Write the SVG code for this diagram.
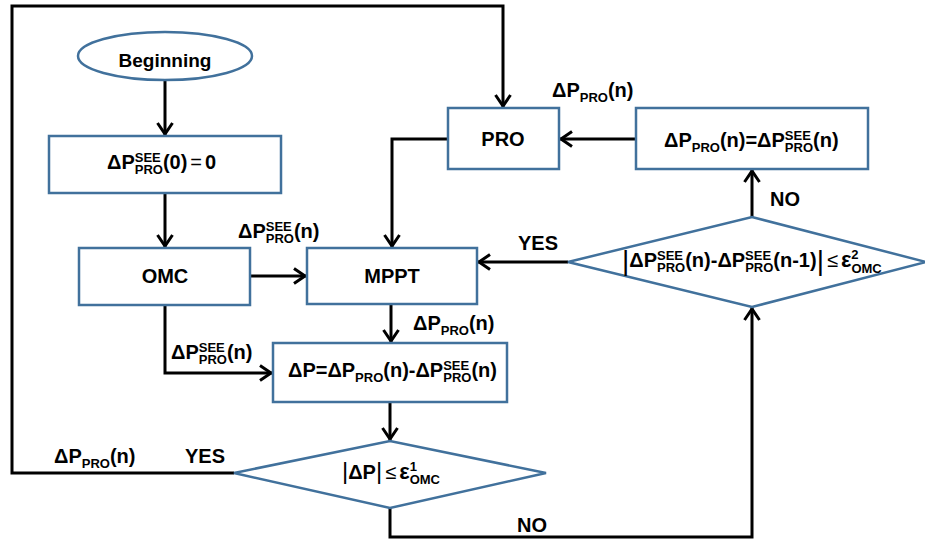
<svg xmlns="http://www.w3.org/2000/svg" width="925" height="539" viewBox="0 0 925 539">
<defs>
<style>
.n{fill:#fff;stroke:#41719c;stroke-width:2.5}
.t{font-family:"Liberation Sans",Arial,sans-serif;font-weight:bold;font-size:20px;fill:#000}
.s{font-size:13px}
.m{font-weight:normal}
.bar{font-weight:normal;font-size:24px}
.eps{font-size:22px}
</style>
<marker id="ah" markerUnits="userSpaceOnUse" viewBox="-2 -10 18 20" markerWidth="18" markerHeight="20" refX="13" refY="0" orient="auto" overflow="visible">
<path d="M0,-7.5 L11,0 L0,7.5" fill="none" stroke="#000" stroke-width="3"/>
</marker>
</defs>
<rect width="925" height="539" fill="#fff"/>

<g id="connectors" fill="none" stroke="#000" stroke-width="3" stroke-linejoin="miter">
<path d="M165,80 V136" marker-end="url(#ah)"/>
<path d="M165,193 V248" marker-end="url(#ah)"/>
<path d="M250,276 H307" marker-end="url(#ah)"/>
<path d="M165,305 V373 H273" marker-end="url(#ah)"/>
<path d="M391,304 V343" marker-end="url(#ah)"/>
<path d="M390,402 V441" marker-end="url(#ah)"/>
<path d="M234,473 H12 V6 H503 V108" marker-end="url(#ah)"/>
<path d="M390,508 V537 H752 V307" marker-end="url(#ah)"/>
<path d="M752,217 V169" marker-end="url(#ah)"/>
<path d="M636,139 H559" marker-end="url(#ah)"/>
<path d="M448,139 H392 V248" marker-end="url(#ah)"/>
<path d="M568,262 H477" marker-end="url(#ah)"/>
</g>

<g id="labels" class="t">
<text class="t" x="552" y="97">ΔP<tspan class="s" dy="5">PRO</tspan><tspan dy="-5">(n)</tspan></text>
<text class="t" x="518" y="250">YES</text>
<text class="t" x="770" y="206">NO</text>
<text class="t" x="238" y="238">ΔP<tspan class="s" dy="-7">SEE</tspan><tspan class="s" dx="-26" dy="12">PRO</tspan><tspan dy="-5">(n)</tspan></text>
<text class="t" x="171" y="359">ΔP<tspan class="s" dy="-7">SEE</tspan><tspan class="s" dx="-26" dy="12">PRO</tspan><tspan dy="-5">(n)</tspan></text>
<text class="t" x="413" y="330">ΔP<tspan class="s" dy="5">PRO</tspan><tspan dy="-5">(n)</tspan></text>
<text class="t" x="54" y="463">ΔP<tspan class="s" dy="5">PRO</tspan><tspan dy="-5">(n)</tspan></text>
<text class="t" x="185" y="463">YES</text>
<text class="t" x="517" y="532">NO</text>
</g>

<g id="beginning">
<ellipse class="n" cx="165" cy="56" rx="87" ry="24"/>
<text class="t" x="165" y="67" text-anchor="middle" style="font-size:19px">Beginning</text>
</g>

<g id="init">
<rect class="n" x="49" y="136" width="232" height="57"/>
<text class="t" x="107" y="169">ΔP<tspan class="s" dy="-7">SEE</tspan><tspan class="s" dx="-26" dy="12">PRO</tspan><tspan dy="-5">(0)</tspan><tspan class="m" dx="3">=</tspan><tspan dx="3">0</tspan></text>
</g>

<g id="omc">
<rect class="n" x="79" y="248" width="171" height="57"/>
<text class="t" x="165" y="283" text-anchor="middle">OMC</text>
</g>

<g id="mppt">
<rect class="n" x="307" y="248" width="170" height="56"/>
<text class="t" x="392" y="283" text-anchor="middle">MPPT</text>
</g>

<g id="pro">
<rect class="n" x="448" y="108" width="111" height="61"/>
<text class="t" x="503" y="146" text-anchor="middle">PRO</text>
</g>

<g id="assign">
<rect class="n" x="636" y="108" width="232" height="61"/>
<text class="t" x="664" y="147">ΔP<tspan class="s" dy="5">PRO</tspan><tspan dy="-5">(n)=ΔP</tspan><tspan class="s" dy="-7">SEE</tspan><tspan class="s" dx="-26" dy="12">PRO</tspan><tspan dy="-5">(n)</tspan></text>
</g>

<g id="delta">
<rect class="n" x="273" y="343" width="234" height="59"/>
<text class="t" x="288" y="377">ΔP=ΔP<tspan class="s" dy="5">PRO</tspan><tspan dy="-5">(n)-ΔP</tspan><tspan class="s" dy="-7">SEE</tspan><tspan class="s" dx="-26" dy="12">PRO</tspan><tspan dy="-5">(n)</tspan></text>
</g>

<g id="check2">
<polygon class="n" points="568,262 752,217 926,262 752,307"/>
<text class="t" x="622" y="267"><tspan class="bar" style="font-size:28px" dy="3">|</tspan><tspan dy="-3">ΔP</tspan><tspan class="s" dy="-7">SEE</tspan><tspan class="s" dx="-26" dy="12">PRO</tspan><tspan dy="-5">(n)-ΔP</tspan><tspan class="s" dy="-7">SEE</tspan><tspan class="s" dx="-26" dy="12">PRO</tspan><tspan dy="-5">(n-1)</tspan><tspan class="bar" style="font-size:28px" dy="3">|</tspan><tspan class="m" dx="3" dy="-3">≤</tspan><tspan class="eps" dx="3">ε</tspan><tspan class="s" dy="-8">2</tspan><tspan class="s" dx="-7.2" dy="14">OMC</tspan></text>
</g>

<g id="check1">
<polygon class="n" points="234,473 390,441 546,473 390,508"/>
<text class="t" x="342" y="479"><tspan class="bar">|</tspan>ΔP<tspan class="bar">|</tspan><tspan class="m" dx="3">≤</tspan><tspan class="eps" dx="3">ε</tspan><tspan class="s" dy="-8">1</tspan><tspan class="s" dx="-7.2" dy="13">OMC</tspan></text>
</g>
</svg>
